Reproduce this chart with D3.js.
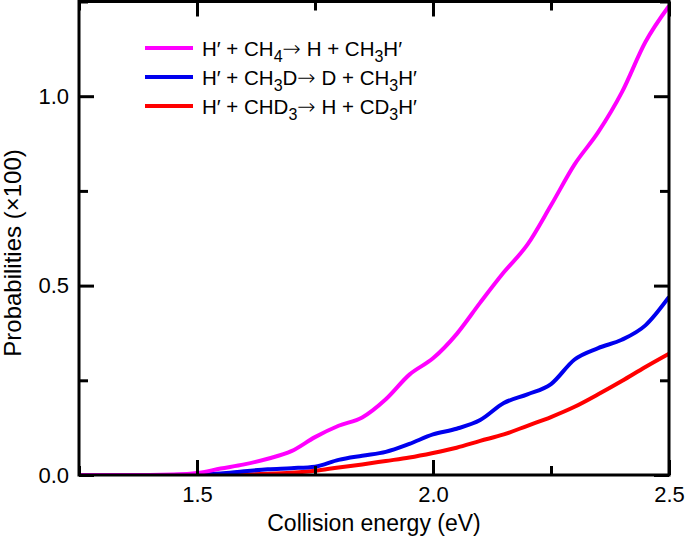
<!DOCTYPE html>
<html>
<head>
<meta charset="utf-8">
<script src="https://cdn.jsdelivr.net/npm/d3@7"></script>
<style>
  body { margin: 0; background: #fff; }
  svg { display: block; font-family: "Liberation Sans", Arial, Helvetica, sans-serif; }
</style>
</head>
<body>
<svg id="chart" width="685" height="536"></svg>
<script>
// ---- data ----
const energies = [1.25, 1.30, 1.35, 1.40, 1.45, 1.50, 1.55, 1.60, 1.65, 1.70, 1.75, 1.80, 1.85, 1.90, 1.95, 2.00, 2.05, 2.10, 2.15, 2.20, 2.25, 2.30, 2.35, 2.40, 2.45, 2.50];
const probCH4  = [0, 0, 0, 0, 0.001, 0.005, 0.017, 0.028, 0.043, 0.063, 0.100, 0.130, 0.152, 0.200, 0.265, 0.308, 0.372, 0.455, 0.535, 0.608, 0.712, 0.820, 0.905, 1.010, 1.143, 1.238];
const probCH3D = [0, 0, 0, 0, 0, 0.001, 0.004, 0.010, 0.015, 0.018, 0.022, 0.040, 0.051, 0.061, 0.082, 0.107, 0.122, 0.145, 0.190, 0.213, 0.240, 0.305, 0.335, 0.357, 0.395, 0.470];
const probCHD3 = [0, 0, 0, 0, 0, 0, 0, 0.001, 0.003, 0.006, 0.011, 0.020, 0.028, 0.037, 0.046, 0.058, 0.072, 0.090, 0.107, 0.130, 0.153, 0.180, 0.213, 0.248, 0.285, 0.320];
const seriesColors = ["#ff00ff", "#0000ee", "#ff0000"];
const xMajorTicks = [1.5, 2.0, 2.5];
const xMinorTicks = [1.25, 1.75, 2.25];
const yMajorTicks = [0.0, 0.5, 1.0];
const yMinorTicks = [0.25, 0.75, 1.25];
const xTitle = "Collision energy (eV)";
const yTitle = "Probabilities (×100)";
// legend labels as text pieces: [text, kind] kind: n normal, s subscript, a arrow
const legendLabels = [
  [["H′ + CH", "n"], ["4", "s"], ["→", "a"], [" H + CH", "n"], ["3", "s"], ["H′", "n"]],
  [["H′ + CH", "n"], ["3", "s"], ["D", "n"], ["→", "a"], [" D + CH", "n"], ["3", "s"], ["H′", "n"]],
  [["H′ + CHD", "n"], ["3", "s"], ["→", "a"], [" H + CD", "n"], ["3", "s"], ["H′", "n"]]
];

const series = [probCH4, probCH3D, probCHD3];

// ---- layout ----
const L = 79, R = 669, T = 1.5, B = 475;
const svg = d3.select("#chart");
const x = d3.scaleLinear().domain([1.25, 2.5]).range([L, R]);
const y = d3.scaleLinear().domain([0, 1.25]).range([B, T]);

svg.append("defs").append("clipPath").attr("id", "clip")
  .append("rect").attr("x", L).attr("y", T).attr("width", R - L).attr("height", B - T);

// lines
const line = d3.line().x((d, i) => x(energies[i])).y(d => y(d)).curve(d3.curveMonotoneX);
const gLines = svg.append("g").attr("clip-path", "url(#clip)");
[2, 1, 0].forEach(k => {
  gLines.append("path")
    .datum(series[k])
    .attr("d", line)
    .attr("fill", "none")
    .attr("stroke", seriesColors[k])
    .attr("stroke-width", 4)
    .attr("stroke-linejoin", "round");
});

// axes (inward ticks, mirrored)
function styleAxis(g) {
  g.select(".domain").remove();
  g.selectAll(".tick line").attr("stroke", "#000").attr("stroke-width", 3);
  g.selectAll(".tick text").attr("font-size", 22).attr("fill", "#000")
    .attr("font-family", "Liberation Sans, Arial, sans-serif");
}
const maj = 15, mino = 9;
// bottom
svg.append("g").attr("transform", `translate(0,${B})`)
  .call(d3.axisBottom(x).tickValues(xMajorTicks).tickSizeInner(-maj).tickSizeOuter(0).tickPadding(11).tickFormat(d3.format(".1f")))
  .call(styleAxis);
svg.append("g").attr("transform", `translate(0,${B})`)
  .call(d3.axisBottom(x).tickValues(xMinorTicks).tickSizeInner(-mino).tickSizeOuter(0).tickFormat(""))
  .call(styleAxis);
// top
svg.append("g").attr("transform", `translate(0,${T})`)
  .call(d3.axisTop(x).tickValues(xMajorTicks).tickSizeInner(-maj).tickSizeOuter(0).tickFormat(""))
  .call(styleAxis);
svg.append("g").attr("transform", `translate(0,${T})`)
  .call(d3.axisTop(x).tickValues(xMinorTicks).tickSizeInner(-mino).tickSizeOuter(0).tickFormat(""))
  .call(styleAxis);
// left
svg.append("g").attr("transform", `translate(${L},0)`)
  .call(d3.axisLeft(y).tickValues(yMajorTicks).tickSizeInner(-maj).tickSizeOuter(0).tickPadding(10).tickFormat(d3.format(".1f")))
  .call(styleAxis);
svg.append("g").attr("transform", `translate(${L},0)`)
  .call(d3.axisLeft(y).tickValues(yMinorTicks).tickSizeInner(-mino).tickSizeOuter(0).tickFormat(""))
  .call(styleAxis);
// right
svg.append("g").attr("transform", `translate(${R},0)`)
  .call(d3.axisRight(y).tickValues(yMajorTicks).tickSizeInner(-maj).tickSizeOuter(0).tickFormat(""))
  .call(styleAxis);
svg.append("g").attr("transform", `translate(${R},0)`)
  .call(d3.axisRight(y).tickValues(yMinorTicks).tickSizeInner(-mino).tickSizeOuter(0).tickFormat(""))
  .call(styleAxis);

// frame
svg.append("rect").attr("x", L).attr("y", T).attr("width", R - L).attr("height", B - T)
  .attr("fill", "none").attr("stroke", "#000").attr("stroke-width", 3);

// titles
svg.append("text").attr("x", 374).attr("y", 531).attr("text-anchor", "middle")
  .attr("font-size", 23).attr("fill", "#000").text(xTitle);
svg.append("text").attr("transform", `translate(21,253) rotate(-90)`).attr("text-anchor", "middle")
  .attr("font-size", 24).attr("fill", "#000").text(yTitle);

// legend
const legendY = [48, 77, 106];
legendLabels.forEach((parts, i) => {
  const g = svg.append("g");
  g.append("line").attr("x1", 145).attr("x2", 193).attr("y1", legendY[i]).attr("y2", legendY[i])
    .attr("stroke", seriesColors[i]).attr("stroke-width", 4);
  const t = g.append("text").attr("x", 202).attr("y", legendY[i] + 8).attr("font-size", 20.5).attr("fill", "#000");
  let shift = 0;
  parts.forEach(([s, kind]) => {
    const ts = t.append("tspan").text(s);
    if (kind === "s") {
      ts.attr("dy", 6 - shift).attr("font-size", 16);
      shift = 6;
    } else {
      ts.attr("dy", -shift);
      shift = 0;
      if (kind === "a") ts.attr("font-family", "DejaVu Sans").attr("font-size", 22).attr("font-weight", 300);
    }
  });
});
</script>
</body>
</html>
